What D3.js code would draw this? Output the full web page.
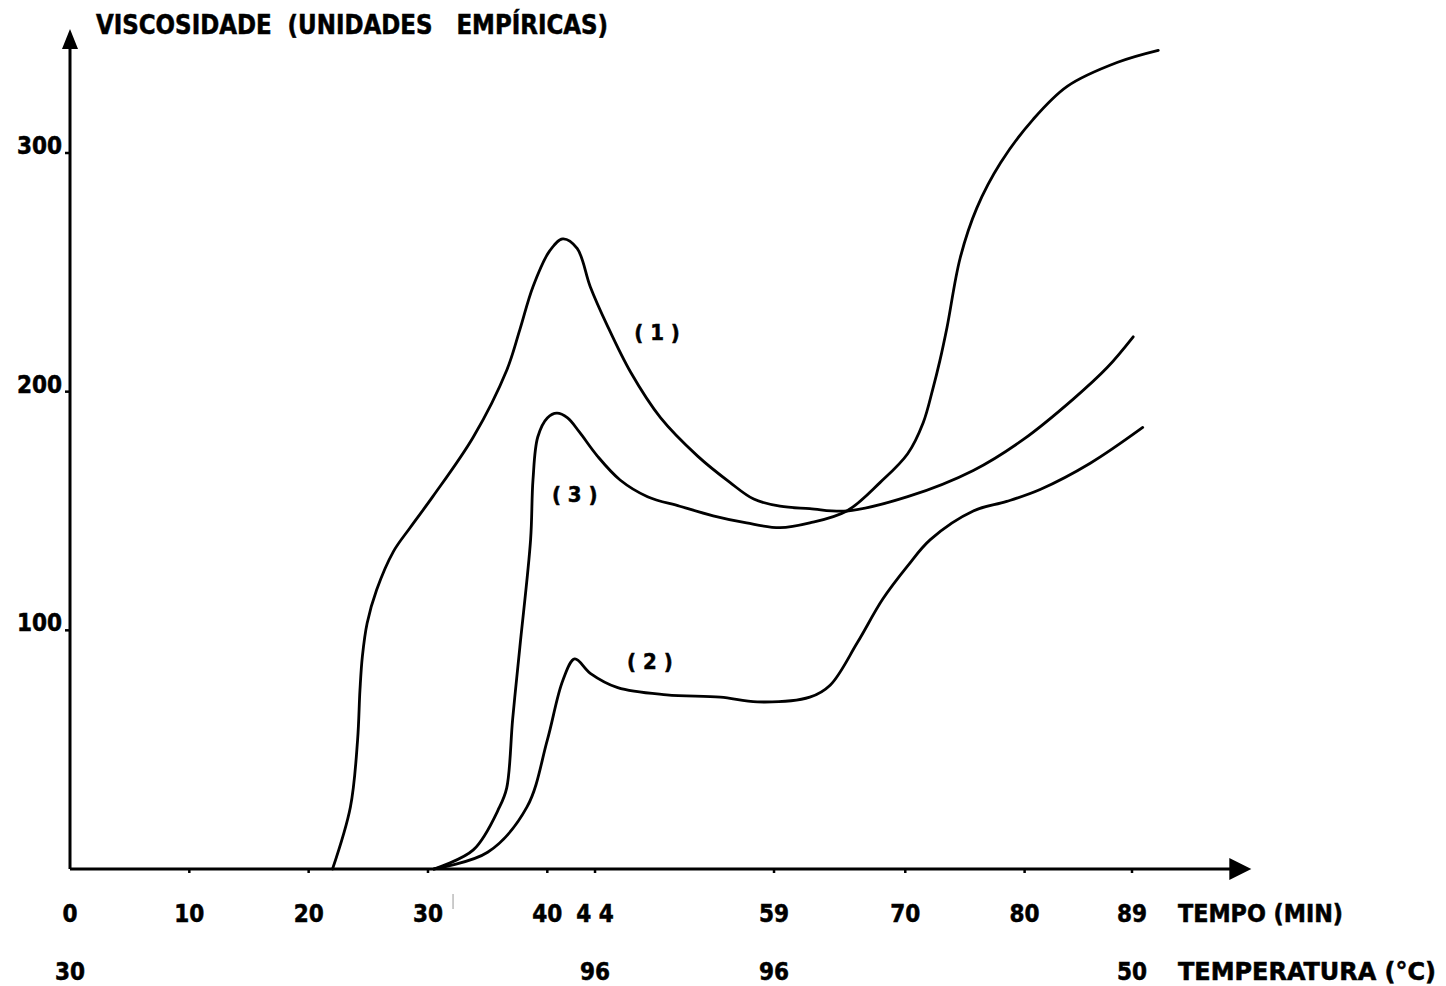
<!DOCTYPE html>
<html>
<head>
<meta charset="utf-8">
<script src="https://cdn.jsdelivr.net/npm/d3@7"></script>
<style>
  html, body { margin: 0; padding: 0; background: #fff; }
  svg { display: block; }
  text { font-family: 'DejaVu Sans Condensed', 'DejaVu Sans', sans-serif; font-weight: bold; fill: #000; stroke: #000; stroke-width: 0.5px; }
</style>
</head>
<body>
<svg id="chart" width="1446" height="986"></svg>
<script>
// ---- data ----
const tempoTicks = [0, 10, 20, 30, 40, 44, 59, 70, 80, 89];
const tempoTickLabels = ["0", "10", "20", "30", "40", "4 4", "59", "70", "80", "89"];
const tempPositions = [0, 44, 59, 89];
const tempLabels = ["30", "96", "96", "50"];
const viscTicks = [100, 200, 300];

const serie1 = [
  [22, 0], [23.5, 26], [24.1, 54], [24.3, 75], [24.5, 89], [24.9, 103], [25.7, 117],
  [27.1, 133], [28.5, 143], [30.4, 156], [33.8, 181], [36.6, 209], [37.7, 226],
  [38.8, 244], [40.2, 259], [41.3, 264], [42.5, 260], [43.6, 244], [45.0, 228],
  [47.0, 208], [49.5, 189], [52.6, 173], [55.3, 162], [57.3, 155], [59.5, 152],
  [62.0, 151], [65.1, 150], [70.2, 156], [75.7, 167], [79.9, 180], [84.1, 197],
  [86.9, 210], [89.1, 223]
];
const serie2 = [
  [30.5, 0], [35.0, 7], [38.3, 26], [40.0, 54], [41.3, 79], [42.3, 88], [43.6, 82],
  [45.9, 76], [50.0, 73], [54.5, 72], [57.6, 70], [62.0, 72], [63.7, 77], [66.0, 95],
  [68.1, 113], [70.2, 127], [72.1, 138], [75.7, 150], [78.5, 154], [81.3, 159],
  [85.5, 170], [89.9, 185]
];
const serie3 = [
  [30.5, 0], [33.8, 8], [36.0, 26], [36.6, 34], [37.1, 63], [37.7, 93], [38.6, 138],
  [38.8, 163], [39.2, 181], [40.0, 189], [40.8, 191], [41.7, 189], [42.7, 183],
  [44.2, 173], [46.1, 163], [48.4, 156], [51.1, 152], [53.9, 148], [56.7, 145],
  [59.5, 143], [62.0, 145], [65.1, 150], [67.9, 162], [70.2, 174], [71.5, 187],
  [72.3, 201], [72.9, 213], [73.5, 227], [74.6, 256], [76.0, 277], [78.0, 296],
  [80.7, 314], [83.6, 328], [87.8, 338], [91.2, 343]
];
const seriesLabels = ["(1)", "(2)", "(3)"];
const labelAnchors = [[49.2, 225], [48.6, 87], [42.3, 157]];

// ---- scales ----
const svg = d3.select("#chart");
const x = d3.scaleLinear().domain([0, 89]).range([70, 1132]);
const y = d3.scaleLinear().domain([0, 300]).range([869, 153]);
const xEnd = 99, yTop = 352;

// ---- axes ----
const axisG = svg.append("g");
axisG.append("line")
  .attr("x1", x(0)).attr("x2", x(xEnd) - 14)
  .attr("y1", y(0)).attr("y2", y(0))
  .attr("stroke", "#000").attr("stroke-width", 3);
axisG.append("path")
  .attr("d", `M${x(xEnd)},${y(0)} L${x(xEnd) - 22},${y(0) - 11} L${x(xEnd) - 22},${y(0) + 11} Z`)
  .attr("fill", "#000");
axisG.append("line")
  .attr("x1", x(0)).attr("x2", x(0))
  .attr("y1", y(0)).attr("y2", y(yTop) + 16)
  .attr("stroke", "#000").attr("stroke-width", 3);
axisG.append("path")
  .attr("d", `M${x(0)},${y(yTop)} L${x(0) - 8},${y(yTop) + 20} L${x(0) + 8},${y(yTop) + 20} Z`)
  .attr("fill", "#000");

// x ticks
axisG.selectAll(".xt").data(tempoTicks.slice(1)).enter().append("line")
  .attr("x1", d => x(d)).attr("x2", d => x(d))
  .attr("y1", y(0)).attr("y2", y(0) + 4)
  .attr("stroke", "#000").attr("stroke-width", 2.5);
axisG.selectAll(".xl").data(tempoTicks).enter().append("text")
  .attr("x", d => x(d)).attr("y", 922)
  .attr("text-anchor", "middle").attr("font-size", 24)
  .style("white-space", "pre")
  .text((d, i) => tempoTickLabels[i]);
axisG.selectAll(".tl").data(tempPositions).enter().append("text")
  .attr("x", d => x(d)).attr("y", 980)
  .attr("text-anchor", "middle").attr("font-size", 24)
  .text((d, i) => tempLabels[i]);

// y ticks
axisG.selectAll(".yt").data(viscTicks).enter().append("line")
  .attr("x1", x(0) - 5).attr("x2", x(0))
  .attr("y1", d => y(d)).attr("y2", d => y(d))
  .attr("stroke", "#000").attr("stroke-width", 2.5);
axisG.selectAll(".yl").data(viscTicks).enter().append("text")
  .attr("x", x(0) - 8).attr("y", d => y(d) + 1)
  .attr("text-anchor", "end").attr("font-size", 24)
  .text(d => d);

// axis titles
svg.append("text").attr("x", 96).attr("y", 34).attr("font-size", 26)
  .attr("textLength", 512).attr("lengthAdjust", "spacingAndGlyphs")
  .style("white-space", "pre")
  .text("VISCOSIDADE  (UNIDADES   EMPÍRICAS)");
svg.append("text").attr("x", 1178).attr("y", 922).attr("font-size", 24)
  .attr("textLength", 165).attr("lengthAdjust", "spacingAndGlyphs")
  .text("TEMPO (MIN)");
svg.append("text").attr("x", 1178).attr("y", 980).attr("font-size", 24)
  .attr("textLength", 258).attr("lengthAdjust", "spacingAndGlyphs")
  .text("TEMPERATURA (°C)");

// faint scan mark near 32 min
svg.append("line").attr("x1", x(32.1)).attr("x2", x(32.1))
  .attr("y1", y(0) + 25).attr("y2", y(0) + 40)
  .attr("stroke", "#999").attr("stroke-width", 1);

// ---- curves ----
const line = d3.line().x(d => x(d[0])).y(d => y(d[1])).curve(d3.curveCatmullRom.alpha(0.5));
svg.append("g").selectAll("path").data([serie1, serie2, serie3]).enter().append("path")
  .attr("d", line)
  .attr("fill", "none").attr("stroke", "#000").attr("stroke-width", 2.8)
  .attr("stroke-linejoin", "round").attr("stroke-linecap", "round");

svg.append("g").selectAll("text").data(labelAnchors).enter().append("text")
  .attr("x", d => x(d[0])).attr("y", d => y(d[1]))
  .attr("text-anchor", "middle").attr("dominant-baseline", "central")
  .attr("font-size", 22)
  .style("white-space", "pre")
  .text((d, i) => seriesLabels[i].split("").join(" "));
</script>
</body>
</html>
